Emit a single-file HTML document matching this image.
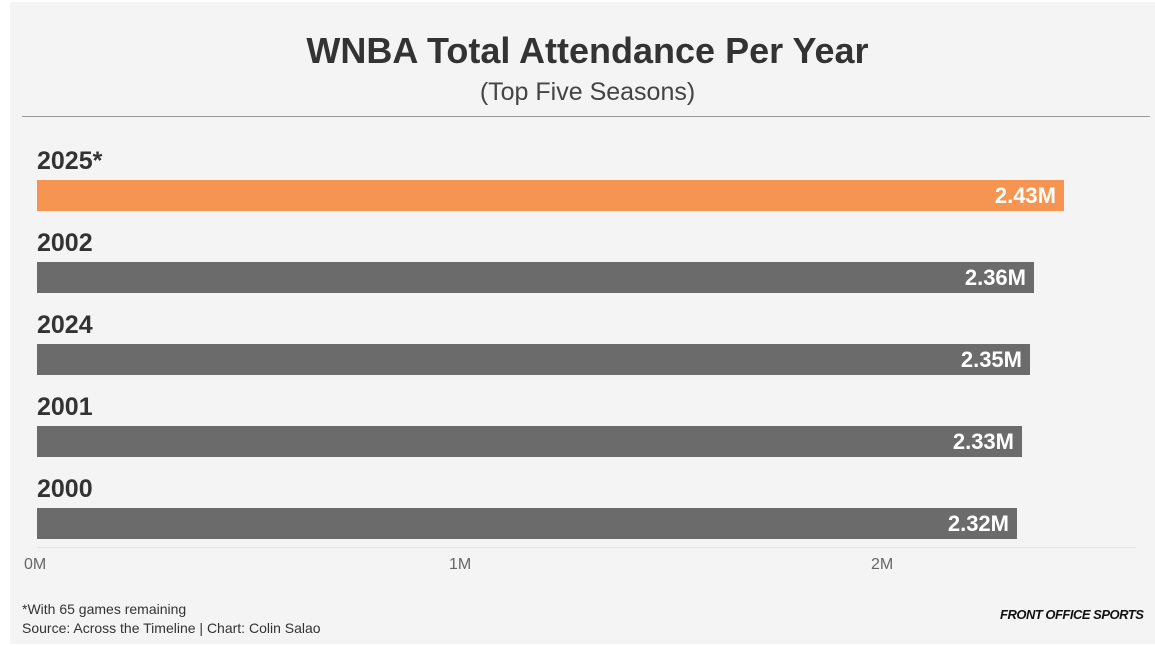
<!DOCTYPE html><html><head><style>
body{margin:0;background:#fff;width:1155px;height:646px;position:relative;font-family:"Liberation Sans",sans-serif;overflow:hidden}
.p{position:absolute;left:10px;top:2px;width:1145px;height:642px;background:#f4f4f4}
.a{position:absolute}
.y{position:absolute;left:37px;font-weight:bold;font-size:25px;color:#333}
.b{position:absolute;left:37px;height:31px;background:#6b6b6b;color:#fff;font-weight:bold;font-size:22px;text-align:right;line-height:31px;box-sizing:border-box;padding-right:8px}
.t{position:absolute;top:556px;font-size:16px;color:#666}
</style></head><body><div class="p"></div>
<div class="a" style="left:0;width:1175px;top:30px;text-align:center;font-weight:bold;font-size:36px;color:#333">WNBA Total Attendance Per Year</div>
<div class="a" style="left:0;width:1175px;top:78px;text-align:center;font-size:25px;color:#444">(Top Five Seasons)</div>
<div class="a" style="left:22px;top:116px;width:1128px;height:1px;background:#999"></div>
<div class="y" style="top:147px">2025*</div>
<div class="b" style="top:180px;width:1027px;background:#f69551">2.43M</div>
<div class="y" style="top:229px">2002</div>
<div class="b" style="top:262px;width:997px">2.36M</div>
<div class="y" style="top:311px">2024</div>
<div class="b" style="top:344px;width:993px">2.35M</div>
<div class="y" style="top:393px">2001</div>
<div class="b" style="top:426px;width:985px">2.33M</div>
<div class="y" style="top:475px">2000</div>
<div class="b" style="top:508px;width:980px">2.32M</div>
<div class="a" style="left:37px;top:547px;width:1099px;height:1px;background:#e4e4e4"></div>
<div class="t" style="left:24px">0M</div>
<div class="t" style="left:449px">1M</div>
<div class="t" style="left:871px">2M</div>
<div class="a" style="left:22px;top:600px;font-size:14px;color:#333;line-height:19px">*With 65 games remaining<br>Source: Across the Timeline | Chart: Colin Salao</div>
<div class="a" style="left:1000px;top:607px;font-size:13px;font-weight:bold;font-style:italic;color:#111;letter-spacing:-0.5px">FRONT OFFICE SPORTS</div>
</body></html>
